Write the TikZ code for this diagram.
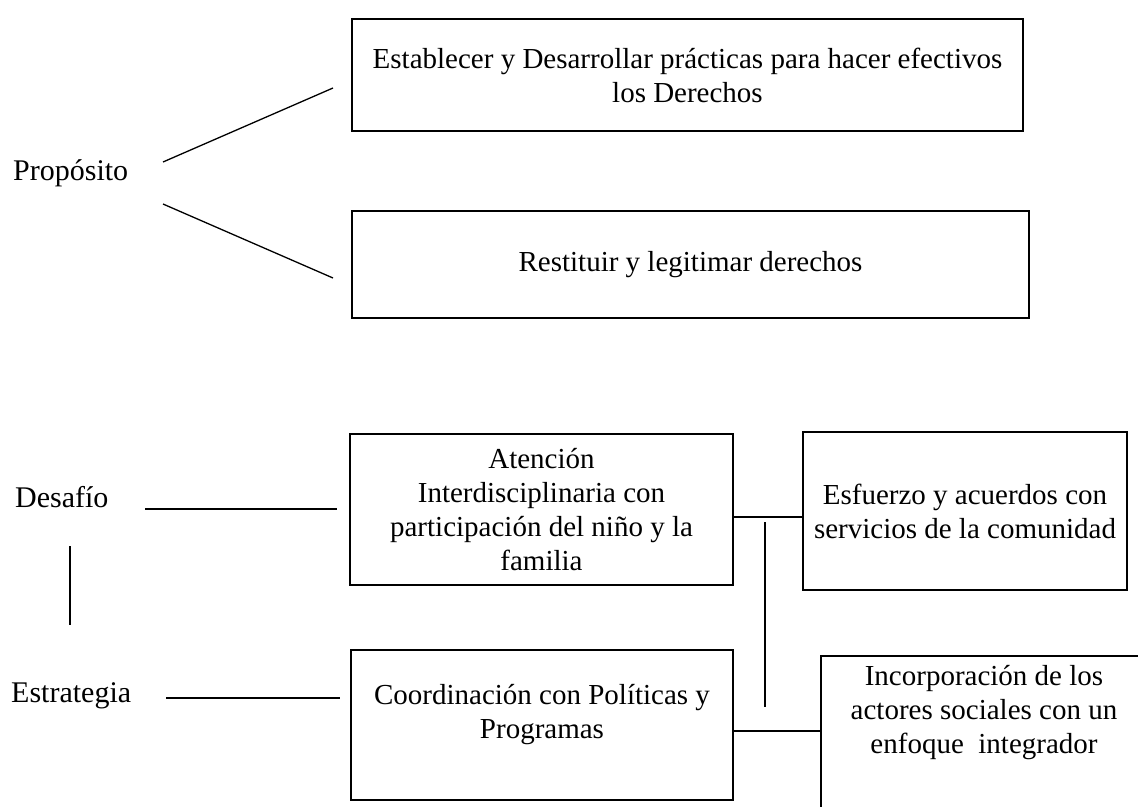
\documentclass[tikz,border=0pt]{standalone}
\usepackage{fontspec}
\setmainfont{Liberation Serif}
\usepackage{tikz}
\usetikzlibrary{positioning}
\tikzset{
  txt/.style={font=\fontsize{29}{34}\selectfont, inner sep=0pt},
  caja/.style={draw=black, line width=1.5pt, align=center, inner sep=4pt,
    font=\fontsize{29}{34}\selectfont},
  enlace/.style={draw=black, line width=1.3pt},
  etiqueta/.style={font=\fontsize{30}{34}\selectfont, inner sep=0pt, anchor=base west}
}
\begin{document}
\begin{tikzpicture}[x=1pt, y=-1pt]
  \clip (0,0) rectangle (1138,806);
  \fill[white] (0,0) rectangle (1138,806);

  % propósito
  \node[etiqueta] (proposito) at (13,180) {Propósito};
  \node[caja, minimum width=671pt, minimum height=112pt] (practicas) at (687.5,75)
    {Establecer y Desarrollar prácticas para hacer efectivos\\los Derechos};
  \node[caja, minimum width=677pt, minimum height=107pt] (restituir) at (690.5,264.5)
    {Restituir y legitimar derechos};
  \coordinate (p1a) at (163,162);
  \coordinate (p1b) at (333,88);
  \coordinate (p2a) at (163,204);
  \coordinate (p2b) at (333,278);
  \draw[enlace] (p1a) -- (p1b);
  \draw[enlace] (p2a) -- (p2b);

  % desafío y estrategia
  \node[etiqueta] (desafio) at (15,507) {Desafío};
  \node[etiqueta] (estrategia) at (11,702) {Estrategia};
  \node[caja, minimum width=383pt, minimum height=151pt] (atencion) at (541.5,509.5)
    {Atención\\Interdisciplinaria con\\participación del niño y la\\familia};
  \node[caja, minimum width=324pt, minimum height=158pt] (esfuerzo) at (965,511)
    {Esfuerzo y acuerdos con\\servicios de la comunidad};
  \node[caja, minimum width=382pt, minimum height=150pt,
    label={[caja, draw=none, yshift=10pt]center:Coordinación con Políticas y\\Programas}]
    (coordinacion) at (542,725) {};
  \node[caja, minimum width=326pt, minimum height=156pt,
    label={[caja, draw=none, yshift=21pt]center:Incorporación de los\\actores sociales con un\\enfoque\ \ integrador}]
    (incorporacion) at (984,734) {};

  \coordinate (d1) at (145,509);
  \coordinate (d2) at (337,509);
  \coordinate (v1) at (70,546);
  \coordinate (v2) at (70,625);
  \coordinate (e1) at (166,698);
  \coordinate (e2) at (340,698);
  \draw[enlace] (d1) -- (d2);
  \draw[enlace] (v1) -- (v2);
  \draw[enlace] (e1) -- (e2);

  % enlaces entre cajas
  \draw[enlace] (atencion.east |- 0,517) -- (esfuerzo.west |- 0,517);
  \coordinate (c1) at (765,522);
  \coordinate (c2) at (765,707);
  \draw[enlace] (c1) -- (c2);
  \draw[enlace] (coordinacion.east |- 0,731) -- (incorporacion.west |- 0,731);
\end{tikzpicture}
\end{document}
